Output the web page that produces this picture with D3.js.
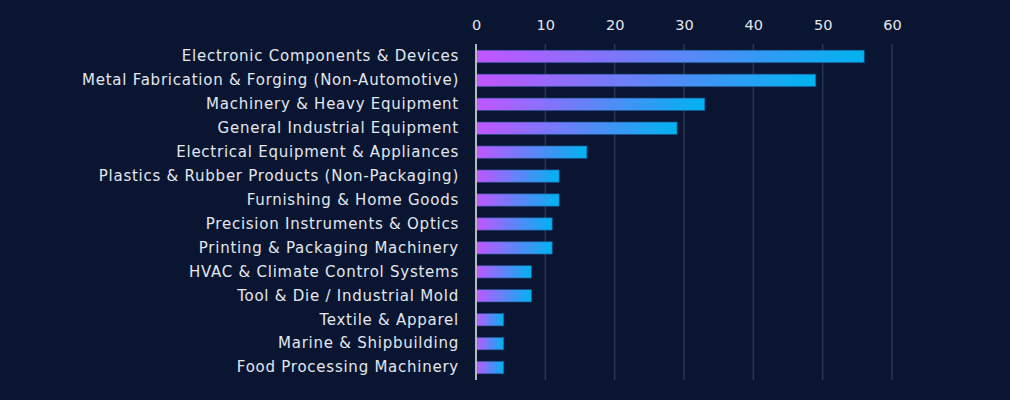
<!DOCTYPE html>
<html>
<head>
<meta charset="utf-8">
<script src="https://cdn.jsdelivr.net/npm/d3@7"></script>
<style>
  body { margin: 0; background: #0a1631; }
  svg { display: block; }
  text { font-family: "DejaVu Sans", sans-serif; fill: #e3e6ee; }
</style>
</head>
<body>
<svg id="svg"></svg>
<script>
// Chart data
const categories = [
    "Electronic Components & Devices",
    "Metal Fabrication & Forging (Non-Automotive)",
    "Machinery & Heavy Equipment",
    "General Industrial Equipment",
    "Electrical Equipment & Appliances",
    "Plastics & Rubber Products (Non-Packaging)",
    "Furnishing & Home Goods",
    "Precision Instruments & Optics",
    "Printing & Packaging Machinery",
    "HVAC & Climate Control Systems",
    "Tool & Die / Industrial Mold",
    "Textile & Apparel",
    "Marine & Shipbuilding",
    "Food Processing Machinery"
];
const values = [56, 49, 33, 29, 16, 12, 12, 11, 11, 8, 8, 4, 4, 4];
const tickValues = [0, 10, 20, 30, 40, 50, 60];

// SVG Dimensions
let width = 1010, height = 400;
const margin = { top: 44, right: 118, bottom: 20, left: 476 };

const svg = d3.select("#svg")
    .attr("width", width)
    .attr("height", height);

svg.append("rect")
    .attr("width", width)
    .attr("height", height)
    .attr("fill", "#0a1631");

const xScale = d3.scaleLinear()
    .domain([0, 60])
    .range([margin.left, width - margin.right]);

const yScale = d3.scaleBand()
    .domain(categories)
    .range([margin.top, height - margin.bottom])
    .paddingInner(0.48)
    .paddingOuter(0.26);

// gradient for the bars
const defs = svg.append("defs");
const grad = defs.append("linearGradient")
    .attr("id", "barGrad")
    .attr("x1", "0%").attr("x2", "100%")
    .attr("y1", "0%").attr("y2", "0%");
grad.append("stop").attr("offset", "0%").attr("stop-color", "#c255ff");
grad.append("stop").attr("offset", "100%").attr("stop-color", "#00b3f0");

// gridlines
svg.append("g")
    .selectAll("line")
    .data(tickValues.slice(1))
    .enter()
    .append("line")
    .attr("x1", (d) => xScale(d))
    .attr("x2", (d) => xScale(d))
    .attr("y1", margin.top)
    .attr("y2", height - margin.bottom)
    .attr("stroke", "#2b3752")
    .attr("stroke-width", 1.5);

// top axis labels
const xAxis = d3.axisTop(xScale)
    .tickValues(tickValues)
    .tickSize(0)
    .tickPadding(0);

const xAxisGroup = svg.append("g")
    .attr("transform", "translate(0, 30)")
    .call(xAxis);
xAxisGroup.select(".domain").remove();
xAxisGroup.selectAll("text")
    .attr("font-size", 14.5)
    .attr("fill", "#e3e6ee")
    .style("font-family", "DejaVu Sans, sans-serif");

// bars
svg.append("g")
    .selectAll("rect")
    .data(values)
    .enter()
    .append("rect")
    .attr("x", xScale(0))
    .attr("y", (d, i) => yScale(categories[i]))
    .attr("width", (d) => xScale(d) - xScale(0))
    .attr("height", yScale.bandwidth())
    .attr("fill", "url(#barGrad)")
    .attr("stroke", "#1d4f8f")
    .attr("stroke-opacity", 0.6)
    .attr("stroke-width", 1);

// category labels
const yAxis = d3.axisLeft(yScale)
    .tickSize(0)
    .tickPadding(17);

const yAxisGroup = svg.append("g")
    .attr("transform", "translate(" + xScale(0) + ", 0)")
    .call(yAxis);
yAxisGroup.select(".domain").remove();
yAxisGroup.selectAll("text")
    .attr("font-size", 15)
    .attr("letter-spacing", "0.75px")
    .attr("fill", "#e3e6ee")
    .style("font-family", "DejaVu Sans, sans-serif");

// zero line
svg.append("line")
    .attr("x1", xScale(0))
    .attr("x2", xScale(0))
    .attr("y1", margin.top)
    .attr("y2", height - margin.bottom)
    .attr("stroke", "#b4b8c4")
    .attr("stroke-width", 2);
</script>
</body>
</html>
